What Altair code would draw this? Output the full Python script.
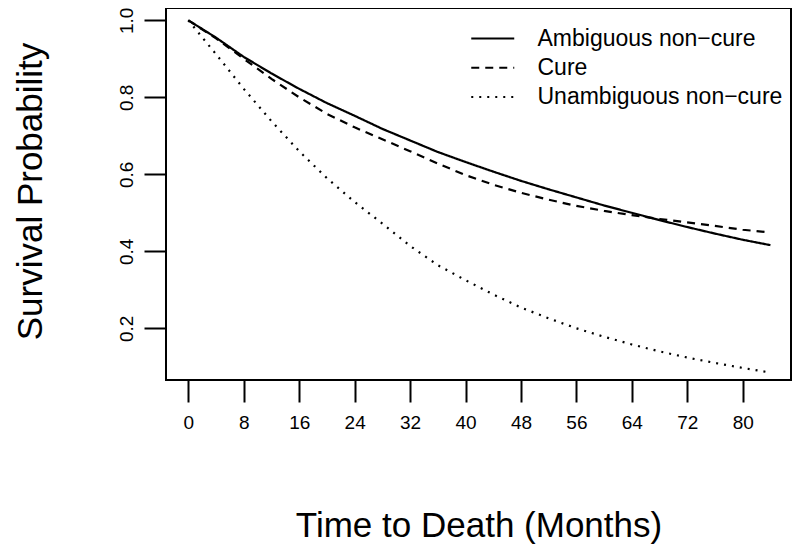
import altair as alt
import pandas as pd

months = [0, 4, 8, 12, 16, 20, 24, 28, 32, 36, 40, 44, 48, 52, 56, 60, 64, 68, 72, 76, 80, 84]
ambiguous = [1.0, 0.955, 0.905, 0.862, 0.822, 0.785, 0.752, 0.718, 0.688, 0.658, 0.632, 0.607,
             0.583, 0.561, 0.540, 0.519, 0.500, 0.481, 0.463, 0.446, 0.430, 0.416]
cure = [1.0, 0.953, 0.900, 0.848, 0.800, 0.757, 0.722, 0.691, 0.660, 0.628, 0.598, 0.573,
        0.552, 0.534, 0.518, 0.505, 0.494, 0.484, 0.475, 0.466, 0.456, 0.449]
unambiguous = [1.0, 0.912, 0.822, 0.738, 0.660, 0.590, 0.528, 0.472, 0.414, 0.364, 0.325, 0.288,
               0.254, 0.226, 0.200, 0.178, 0.158, 0.140, 0.124, 0.110, 0.097, 0.085]

series_names = ["Ambiguous non\u2212cure", "Cure", "Unambiguous non\u2212cure"]
x_ticks = [0, 8, 16, 24, 32, 40, 48, 56, 64, 72, 80]
y_ticks = [0.2, 0.4, 0.6, 0.8, 1.0]

rows = []
for name, vals in zip(series_names, [ambiguous, cure, unambiguous]):
    for m, v in zip(months, vals):
        rows.append({"month": m, "surv": v, "group": name})
df = pd.DataFrame(rows)

FONT = "Liberation Sans"

chart = alt.Chart(df).mark_line(color="black", strokeWidth=2.2).encode(
    x=alt.X("month:Q",
            scale=alt.Scale(domain=[-3.22, 86.97], nice=False, zero=False),
            axis=alt.Axis(values=x_ticks, title="Time to Death (Months)", grid=False,
                          domain=False, tickSize=22, tickWidth=2, tickColor="black",
                          labelFontSize=19, labelFont=FONT, labelColor="black",
                          labelPadding=11, labelFlush=False,
                          titleFontSize=35, titleFont=FONT, titleFontWeight="normal",
                          titleColor="black", titleY=145, titleBaseline="middle")),
    y=alt.Y("surv:Q",
            scale=alt.Scale(domain=[0.0657, 1.032], nice=False, zero=False),
            axis=alt.Axis(values=y_ticks, format=".1f", title="Survival Probability", grid=False,
                          domain=False, tickSize=22, tickWidth=2, tickColor="black",
                          labelFontSize=19, labelFont=FONT, labelColor="black",
                          labelAngle=270, labelAlign="center", labelBaseline="alphabetic",
                          labelPadding=12, labelFlush=False,
                          titleFontSize=35, titleFont=FONT, titleFontWeight="normal",
                          titleColor="black", titleX=-136, titleY=183,
                          titleAngle=270, titleAlign="center", titleBaseline="middle")),
    strokeDash=alt.StrokeDash("group:N",
                              scale=alt.Scale(domain=series_names,
                                              range=[[1, 0], [8, 6], [2, 6]]),
                              legend=alt.Legend(title=None, orient="none", legendX=314.75, legendY=18.5,
                                                symbolType="M-2,0H2", symbolSize=462,
                                                symbolStrokeWidth=2, symbolStrokeColor="black",
                                                symbolFillColor="transparent",
                                                labelFontSize=23, labelFont=FONT,
                                                labelColor="black", labelOffset=32.75,
                                                rowPadding=5.2, padding=0,
                                                labelLimit=400)),
).properties(
    width=625, height=372,
    autosize=alt.AutoSizeParams(type="none"),
    padding={"left": 158, "top": 0, "right": 1, "bottom": 165},
).configure_view(stroke="black", strokeWidth=2)

chart.save("out.html", embed_options={"renderer": "svg", "actions": False})
